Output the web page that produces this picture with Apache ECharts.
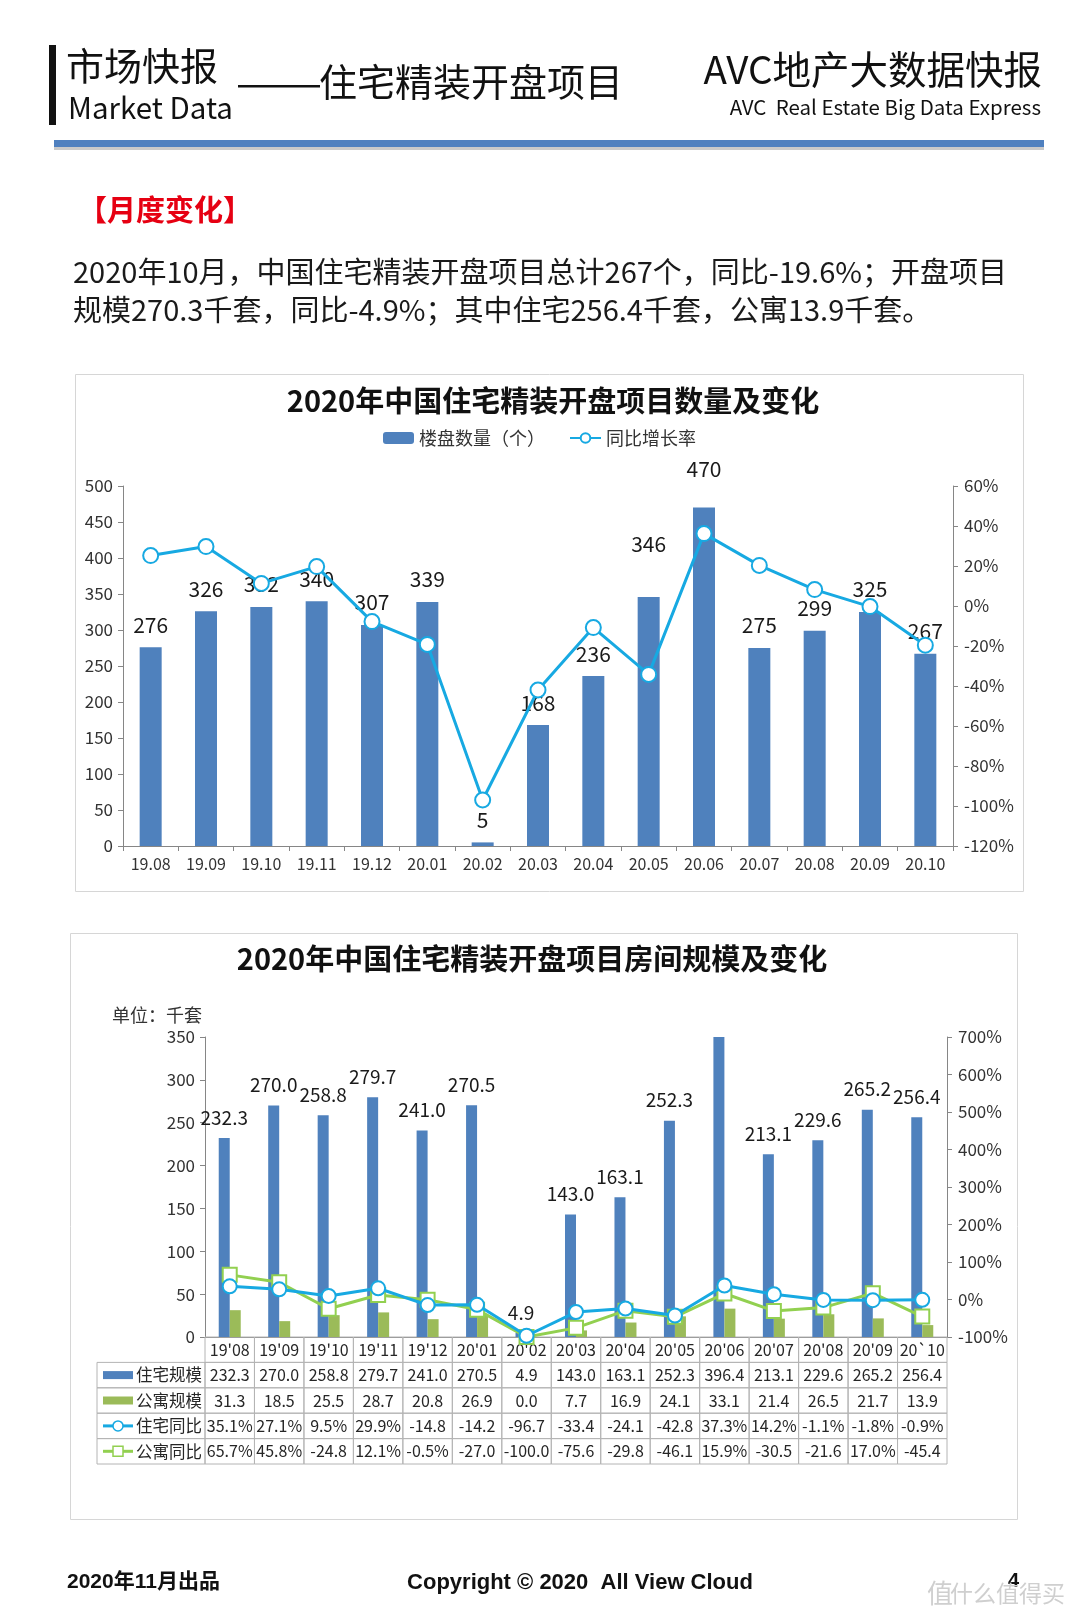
<!DOCTYPE html>
<html><head><meta charset="utf-8">
<script src="https://cdn.jsdelivr.net/npm/echarts@6/dist/echarts.min.js"></script>
<style>html,body{margin:0;padding:0;background:#fff}#c{width:1080px;height:1621px}</style>
</head><body><div id="c"></div>
<script>
// ---------- DATA ----------
const months1 = ['19.08','19.09','19.10','19.11','19.12','20.01','20.02','20.03','20.04','20.05','20.06','20.07','20.08','20.09','20.10'];
const projectCounts = [276,326,332,340,307,339,5,168,236,346,470,275,299,325,267];
const projectYoY = [25.2,29.7,11.3,19.7,-7.8,-19.2,-97.0,-42.0,-10.8,-34.2,36.2,20.3,8.2,-0.3,-19.6];

const months2 = ["19'08","19'09","19'10","19'11","19'12","20'01","20'02","20'03","20'04","20'05","20'06","20'07","20'08","20'09","20`10"];
const residentialScale = [232.3,270.0,258.8,279.7,241.0,270.5,4.9,143.0,163.1,252.3,396.4,213.1,229.6,265.2,256.4];
const apartmentScale = [31.3,18.5,25.5,28.7,20.8,26.9,0.0,7.7,16.9,24.1,33.1,21.4,26.5,21.7,13.9];
const residentialYoY = [35.1,27.1,9.5,29.9,-14.8,-14.2,-96.7,-33.4,-24.1,-42.8,37.3,14.2,-1.1,-1.8,-0.9];
const apartmentYoY = [65.7,45.8,-24.8,12.1,-0.5,-27.0,-100.0,-75.6,-29.8,-46.1,15.9,-30.5,-21.6,17.0,-45.4];

const tableRowNames = ['住宅规模','公寓规模','住宅同比','公寓同比'];

// ---------- STYLE ----------
const FONT = '"Noto Sans CJK SC","Noto Sans",sans-serif';
const BLUE = '#4f81bd', GREEN_BAR = '#9bbb59', CYAN = '#17a9e2', GREEN_LINE = '#92d050';
const AXIS = '#868686', TXT = '#333333', GRIDC = '#b4b4b4';
const HEADER_W = 108;
const labelLift1 = {9: 30, 10: 16}; // extra label lift for crowded labels (layout only)

const fmtScale = v => v.toFixed(1);
const fmtPct = v => { const s = v.toFixed(1); return s.length <= 4 ? s + '%' : s; };

// table cells
const tableRows = [
  {name: null, texts: months2},
  {name: tableRowNames[0], kind: 'bar', color: BLUE, texts: residentialScale.map(fmtScale)},
  {name: tableRowNames[1], kind: 'bar', color: GREEN_BAR, texts: apartmentScale.map(fmtScale)},
  {name: tableRowNames[2], kind: 'circle', color: CYAN, texts: residentialYoY.map(fmtPct)},
  {name: tableRowNames[3], kind: 'square', color: GREEN_LINE, texts: apartmentYoY.map(fmtPct)}
];
const tableCells = [], tableData = [];
tableRows.forEach((row, r) => {
  if (row.name) { tableCells.push({header: true, text: row.name, kind: row.kind, color: row.color}); tableData.push([0, r]); }
  row.texts.forEach((t, c) => { tableCells.push({header: false, text: t}); tableData.push([c, r]); });
});

function renderCell(params, api) {
  const cell = tableCells[params.dataIndex];
  const cs = params.coordSys;
  const pt = api.coord([api.value(0), api.value(1)]);
  const sz = api.size([1, 1]);
  const h = sz[1], w = sz[0];
  const top = pt[1] - h / 2;
  if (cell.header) {
    const x0 = cs.x - HEADER_W;
    const ch = [
      {type: 'rect', shape: {x: x0, y: top, width: HEADER_W, height: h}, style: {fill: 'none', stroke: GRIDC, lineWidth: 1}},
      {type: 'text', style: {text: cell.text, x: cs.x - 3, y: pt[1], align: 'right', verticalAlign: 'middle', fill: '#262626', font: '16.5px ' + FONT}}
    ];
    const ix0 = x0 + 6, ix1 = x0 + 36, mx = (ix0 + ix1) / 2;
    if (cell.kind === 'bar') {
      ch.push({type: 'rect', shape: {x: ix0, y: pt[1] - 4, width: 30, height: 8}, style: {fill: cell.color}});
    } else {
      ch.push({type: 'line', shape: {x1: ix0, y1: pt[1], x2: ix1, y2: pt[1]}, style: {stroke: cell.color, lineWidth: 3}});
      if (cell.kind === 'circle') ch.push({type: 'circle', shape: {cx: mx, cy: pt[1], r: 5}, style: {fill: '#fff', stroke: cell.color, lineWidth: 1.5}});
      else ch.push({type: 'rect', shape: {x: mx - 5, y: pt[1] - 5, width: 10, height: 10}, style: {fill: '#fff', stroke: cell.color, lineWidth: 1.5}});
    }
    return {type: 'group', children: ch};
  }
  return {type: 'group', children: [
    {type: 'rect', shape: {x: pt[0] - w / 2, y: top, width: w, height: h}, style: {fill: 'none', stroke: GRIDC, lineWidth: 1}},
    {type: 'text', style: {text: cell.text, x: pt[0], y: pt[1], align: 'center', verticalAlign: 'middle', fill: '#262626', font: '16px ' + FONT}}
  ]};
}

const chart = echarts.init(document.getElementById('c'), null, {renderer: 'canvas'});

function txt(text, x, y, size, opts) {
  opts = opts || {};
  return {type: 'text', x: x, y: y, z: 10, style: {text: text, font: (opts.weight || 'normal') + ' ' + size + 'px ' + (opts.family || FONT),
    fill: opts.color || '#111', align: opts.align || 'left', verticalAlign: 'middle'}};
}

const axisLabelStyle = {color: TXT, fontSize: 17, fontFamily: FONT};

const option = {
  animation: false,
  backgroundColor: '#fff',
  textStyle: {fontFamily: FONT},
  graphic: [
    {type: 'rect', shape: {x: 49, y: 45, width: 7, height: 80}, style: {fill: '#111'}},
    txt('市场快报', 66, 66, 38),
    txt('Market Data', 68, 108, 29.5),
    {type: 'rect', shape: {x: 238, y: 85, width: 82, height: 2.5}, style: {fill: '#111'}},
    txt('住宅精装开盘项目', 319, 82, 38),
    txt('AVC地产大数据快报', 1042, 69, 38.5, {align: 'right'}),
    txt('AVC  Real Estate Big Data Express', 1041, 107, 20.5, {align: 'right'}),
    {type: 'rect', shape: {x: 54, y: 144, width: 990, height: 6}, style: {fill: '#c9c9c9'}},
    {type: 'rect', shape: {x: 54, y: 140, width: 990, height: 7}, style: {fill: '#4f80bf'}},
    txt('【月度变化】', 78, 210, 29, {weight: 'bold', color: '#e60012'}),
    txt('2020年10月，中国住宅精装开盘项目总计267个，同比-19.6%；开盘项目', 73, 272, 29, {color: '#1a1a1a'}),
    txt('规模270.3千套，同比-4.9%；其中住宅256.4千套，公寓13.9千套。', 73, 310, 29, {color: '#1a1a1a'}),
    // chart boxes
    {type: 'rect', shape: {x: 75.5, y: 374.5, width: 948, height: 517}, style: {fill: 'none', stroke: '#d6d6d6', lineWidth: 1}},
    {type: 'rect', shape: {x: 70.5, y: 933.5, width: 947, height: 586}, style: {fill: 'none', stroke: '#d6d6d6', lineWidth: 1}},
    txt('2020年中国住宅精装开盘项目数量及变化', 553, 401, 29, {weight: 'bold', align: 'center'}),
    txt('2020年中国住宅精装开盘项目房间规模及变化', 532, 959, 29, {weight: 'bold', align: 'center'}),
    txt('单位：千套', 112, 1015, 18, {color: TXT}),
    // footer
    txt('2020年11月出品', 67, 1582, 21, {weight: 'bold', family: '"Liberation Sans Narrow","Liberation Sans","Noto Sans CJK SC",sans-serif'}),
    txt('Copyright © 2020  All View Cloud', 580, 1583, 22, {weight: 'bold', align: 'center', family: '"Liberation Sans Narrow","Liberation Sans",sans-serif'}),
    txt('4', 1008, 1581, 20, {weight: 'bold', family: '"Liberation Sans",sans-serif'}),
    txt('值', 927, 1593, 26, {color: '#cfcfcf'}),
    txt('什么值得买', 950, 1593, 23, {color: '#cfcfcf'})
  ],
  legend: {
    data: ['楼盘数量（个）', '同比增长率'],
    left: 378, top: 424, itemWidth: 31, itemHeight: 12, itemGap: 24,
    textStyle: {fontSize: 18, color: TXT, fontFamily: FONT}
  },
  grid: [
    {left: 123, right: 127, top: 486, height: 360},
    {left: 205, right: 133, top: 1037, height: 300},
    {left: 205, right: 133, top: 1337, height: 127}
  ],
  xAxis: [
    {type: 'category', gridIndex: 0, data: months1,
      axisLine: {lineStyle: {color: AXIS}}, axisTick: {show: true, length: 5, lineStyle: {color: AXIS}},
      axisLabel: {color: TXT, fontSize: 16, fontFamily: FONT, margin: 10, interval: 0}},
    {type: 'category', gridIndex: 1, data: months2,
      axisLine: {lineStyle: {color: AXIS}}, axisTick: {show: false}, axisLabel: {show: false}},
    {type: 'category', gridIndex: 2, data: months2, show: false}
  ],
  yAxis: [
    {type: 'value', gridIndex: 0, min: 0, max: 500, interval: 50, position: 'left',
      axisLine: {show: true, lineStyle: {color: AXIS}}, axisTick: {show: true, length: 5, lineStyle: {color: AXIS}},
      splitLine: {show: false}, axisLabel: Object.assign({margin: 10}, axisLabelStyle)},
    {type: 'value', gridIndex: 0, min: -120, max: 60, interval: 20, position: 'right',
      axisLine: {show: true, lineStyle: {color: AXIS}}, axisTick: {show: true, length: 5, lineStyle: {color: AXIS}},
      splitLine: {show: false}, axisLabel: Object.assign({margin: 11, formatter: '{value}%'}, axisLabelStyle)},
    {type: 'value', gridIndex: 1, min: 0, max: 350, interval: 50, position: 'left',
      axisLine: {show: true, lineStyle: {color: AXIS}}, axisTick: {show: true, length: 5, lineStyle: {color: AXIS}},
      splitLine: {show: false}, axisLabel: Object.assign({margin: 10}, axisLabelStyle)},
    {type: 'value', gridIndex: 1, min: -100, max: 700, interval: 100, position: 'right',
      axisLine: {show: true, lineStyle: {color: AXIS}}, axisTick: {show: true, length: 5, lineStyle: {color: AXIS}},
      splitLine: {show: false}, axisLabel: Object.assign({margin: 11, formatter: '{value}%'}, axisLabelStyle)},
    {type: 'category', gridIndex: 2, data: ['', ...tableRowNames], inverse: true, show: false}
  ],
  series: [
    {name: '楼盘数量（个）', type: 'bar', xAxisIndex: 0, yAxisIndex: 0, barWidth: 22, itemStyle: {color: BLUE},
      data: projectCounts.map((v, i) => labelLift1[i] ? {value: v, label: {distance: 12 + labelLift1[i]}} : v),
      label: {show: true, position: 'top', distance: 12, fontSize: 21, color: '#1a1a1a', fontFamily: FONT}},
    {name: '同比增长率', type: 'line', xAxisIndex: 0, yAxisIndex: 1, data: projectYoY, z: 5,
      symbol: 'emptyCircle', symbolSize: 15, itemStyle: {color: CYAN, borderWidth: 1.5}, lineStyle: {color: CYAN, width: 3}},
    {name: '住宅规模', type: 'bar', xAxisIndex: 1, yAxisIndex: 2, barWidth: 11, barGap: '0%', itemStyle: {color: BLUE},
      data: residentialScale,
      label: {show: true, position: 'top', distance: 11, fontSize: 19, color: '#1a1a1a', fontFamily: FONT,
        formatter: p => p.value > 350 ? '' : p.value.toFixed(1)}},
    {name: '公寓规模', type: 'bar', xAxisIndex: 1, yAxisIndex: 2, barWidth: 11, barGap: '0%', itemStyle: {color: GREEN_BAR},
      data: apartmentScale},
    {name: '住宅同比', type: 'line', xAxisIndex: 1, yAxisIndex: 3, data: residentialYoY, z: 5,
      symbol: 'emptyCircle', symbolSize: 14, itemStyle: {color: CYAN, borderWidth: 1.5}, lineStyle: {color: CYAN, width: 3}},
    {name: '公寓同比', type: 'line', xAxisIndex: 1, yAxisIndex: 3, data: apartmentYoY, z: 4,
      symbol: 'emptyRect', symbolSize: 14, itemStyle: {color: GREEN_LINE, borderWidth: 1.5}, lineStyle: {color: GREEN_LINE, width: 3}},
    {name: 'table', type: 'custom', xAxisIndex: 2, yAxisIndex: 4, data: tableData, encode: {x: 0, y: 1},
      renderItem: renderCell, silent: true}
  ]
};
chart.setOption(option);
</script>
</body></html>
